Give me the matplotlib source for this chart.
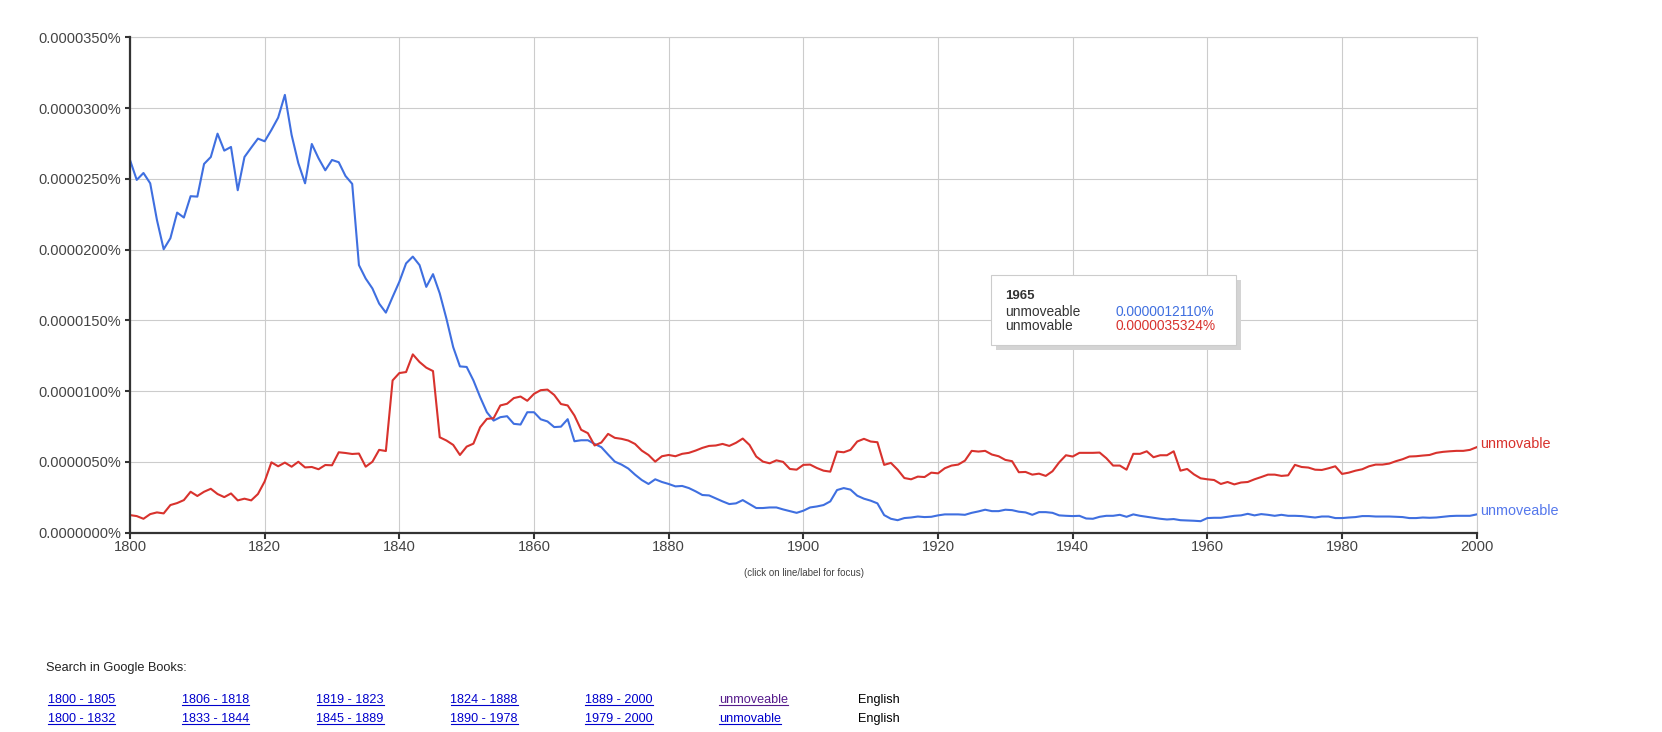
import matplotlib
matplotlib.use("Agg")
import matplotlib.pyplot as plt
from matplotlib.patches import Rectangle
from matplotlib.lines import Line2D
import numpy as np

W, H = 1662, 732
plt.rcParams['font.family'] = ['Liberation Sans', 'DejaVu Sans']

years = list(range(1800, 2001))

# values in units of 0.000001 %
unmoveable = [
    26.33, 24.92, 25.41, 24.68, 22.09, 20.02, 20.8, 22.61, 22.26, 23.77,
    23.74, 26.05, 26.54, 28.19, 26.99, 27.25, 24.19, 26.54, 27.2, 27.84,
    27.65, 28.45, 29.32, 30.93, 28.1, 26.1, 24.68, 27.46, 26.45, 25.6,
    26.33, 26.17, 25.2, 24.64, 18.9, 17.95, 17.25, 16.18, 15.54, 16.65,
    17.72, 19.02, 19.5, 18.9, 17.36, 18.26, 16.9, 15.1, 13.1, 11.74,
    11.7, 10.75, 9.57, 8.5, 7.91, 8.15, 8.22, 7.68, 7.63, 8.5,
    8.5, 8.0, 7.85, 7.45, 7.48, 8.01, 6.45, 6.52, 6.52, 6.26,
    6.03, 5.51, 5.01, 4.8, 4.52, 4.09, 3.71, 3.43, 3.76, 3.57,
    3.43, 3.26, 3.29, 3.14, 2.91, 2.65, 2.62, 2.41, 2.2, 2.01,
    2.06, 2.29, 2.01, 1.73, 1.73, 1.77, 1.77, 1.63, 1.51, 1.39,
    1.54, 1.77, 1.84, 1.94, 2.2, 3.0, 3.14, 3.03, 2.6, 2.39,
    2.25, 2.06, 1.23, 0.97, 0.87, 1.02, 1.06, 1.13, 1.09, 1.11,
    1.21, 1.28, 1.28, 1.28, 1.25, 1.39, 1.49, 1.61, 1.51, 1.51,
    1.61, 1.58, 1.47, 1.42, 1.25, 1.44, 1.44, 1.39, 1.21, 1.18,
    1.16, 1.18, 0.99, 0.97, 1.11, 1.18, 1.18, 1.25, 1.11, 1.28,
    1.18, 1.11, 1.04, 0.97, 0.92, 0.95, 0.87, 0.85, 0.83, 0.8,
    1.02, 1.04, 1.04, 1.11, 1.18, 1.211, 1.32, 1.21, 1.3, 1.25,
    1.18, 1.25, 1.18, 1.18, 1.16, 1.11, 1.06, 1.13, 1.13, 1.02,
    1.02, 1.06, 1.09, 1.16, 1.16, 1.13, 1.13, 1.13, 1.11, 1.09,
    1.02, 1.02, 1.06, 1.04, 1.06, 1.11, 1.16, 1.18, 1.18, 1.18,
    1.28,
]
unmovable = [
    1.23, 1.16, 0.97, 1.3, 1.42, 1.35, 1.94, 2.08, 2.29, 2.88,
    2.58, 2.88, 3.09, 2.72, 2.5, 2.76, 2.27, 2.39, 2.27, 2.72,
    3.61, 4.96, 4.68, 4.94, 4.65, 5.0, 4.6, 4.63, 4.47, 4.77,
    4.75, 5.67, 5.62, 5.55, 5.58, 4.65, 5.0, 5.84, 5.76, 10.75,
    11.27, 11.34, 12.59, 12.05, 11.65, 11.41, 6.73, 6.5, 6.19, 5.48,
    6.07, 6.28, 7.44, 8.03, 8.08, 8.98, 9.1, 9.5, 9.61, 9.31,
    9.8, 10.06, 10.1, 9.72, 9.08, 8.98, 8.27, 7.26, 7.02, 6.15,
    6.36, 6.97, 6.69, 6.62, 6.5, 6.26, 5.79, 5.48, 5.01, 5.39,
    5.48, 5.39, 5.56, 5.63, 5.79, 5.98, 6.12, 6.15, 6.26, 6.12,
    6.34, 6.64, 6.19, 5.37, 5.01, 4.89, 5.1, 4.99, 4.49, 4.44,
    4.78, 4.8, 4.56, 4.37, 4.3, 5.72, 5.67, 5.84, 6.43, 6.62,
    6.43, 6.38, 4.78, 4.92, 4.44, 3.85, 3.76, 3.95, 3.92, 4.23,
    4.18, 4.54, 4.73, 4.8, 5.08, 5.77, 5.72, 5.77, 5.51, 5.39,
    5.13, 5.04, 4.26, 4.28, 4.09, 4.16, 4.0, 4.33, 4.96, 5.46,
    5.37, 5.63, 5.63, 5.63, 5.65, 5.25, 4.73, 4.73, 4.44, 5.56,
    5.56, 5.74, 5.32, 5.46, 5.46, 5.74, 4.37, 4.49, 4.11, 3.83,
    3.76, 3.71, 3.43, 3.57, 3.4, 3.5324, 3.57, 3.76, 3.92, 4.09,
    4.09, 4.0, 4.04, 4.78, 4.63, 4.59, 4.44, 4.42, 4.54, 4.68,
    4.14, 4.23, 4.37, 4.47, 4.68, 4.8, 4.8, 4.87, 5.04, 5.18,
    5.37, 5.39, 5.44, 5.48, 5.63, 5.7, 5.74, 5.77, 5.77, 5.84,
    6.03,
]

xticks = list(range(1800, 2001, 20))
yticks = [0, 5, 10, 15, 20, 25, 30, 35]

tip_year = "1965"
tip_rows = [("unmoveable", "0.0000012110%"), ("unmovable", "0.0000035324%")]

row1 = ["1800 - 1805", "1806 - 1818", "1819 - 1823", "1824 - 1888", "1889 - 2000", "unmoveable"]
row2 = ["1800 - 1832", "1833 - 1844", "1845 - 1889", "1890 - 1978", "1979 - 2000", "unmovable"]
col_x = [48, 182, 316.5, 450.5, 585, 719, 858]

BLUE = '#3f6fe0'
RED = '#d8322d'
GRID = '#cccccc'


def fx(x):
    return x / W


def fy(y):
    return 1 - y / H


fig = plt.figure(figsize=(W / 100, H / 100), dpi=100)
ax = fig.add_axes([fx(130), fy(532.5), fx(1476.7) - fx(130), fy(37.3) - fy(532.5)])

ax.plot(years, unmoveable, color=BLUE, lw=1.5, zorder=3)
ax.plot(years, unmovable, color=RED, lw=1.5, zorder=3)

ax.set_xlim(1800, 2000)
ax.set_ylim(0, 35)
ax.set_xticks(xticks)
ax.set_yticks(yticks)
ax.set_yticklabels([f"{v / 1e6:.7f}%" for v in yticks])
ax.grid(True, color=GRID, lw=0.8, zorder=0)
ax.tick_params(axis='y', length=3.6, width=1.5, color='#333333', pad=2.8,
               labelsize=10.5, labelcolor='#444444')
ax.tick_params(axis='x', length=4.5, width=1.5, color='#333333', pad=1,
               labelsize=10.6, labelcolor='#444444')
for s in ['left', 'bottom']:
    ax.spines[s].set_color('#333333')
    ax.spines[s].set_linewidth(1.6)
    ax.spines[s].set_zorder(4)
for s in ['top', 'right']:
    ax.spines[s].set_color(GRID)
    ax.spines[s].set_linewidth(0.8)

# end-of-line labels
ax.annotate("unmovable", (years[-1], unmovable[-1]), xytext=(3, 3), textcoords='offset pixels',
            color=RED, fontsize=10.4, va='center', ha='left', annotation_clip=False)
ax.annotate("unmoveable", (years[-1], unmoveable[-1]), xytext=(3, 3), textcoords='offset pixels',
            color='#5578ec', fontsize=10.4, va='center', ha='left', annotation_clip=False)

fig.text(fx(803.5), fy(573), "(click on line/label for focus)", fontsize=7,
         color='#444444', ha='center', va='center')

# tooltip box
fig.add_artist(Rectangle((fx(995.5), fy(350)), fx(245) - fx(0), fy(275) - fy(345),
                         transform=fig.transFigure, facecolor='#d4d4d4', edgecolor='none', zorder=5))
fig.add_artist(Rectangle((fx(991), fy(345)), fx(245) - fx(0), fy(275) - fy(345),
                         transform=fig.transFigure, facecolor='white', edgecolor='#cccccc',
                         lw=0.8, zorder=6))
fig.text(fx(1005), fy(296), tip_year, fontsize=9.5, fontweight='bold', color='#333333',
         va='center', zorder=7)
for i, (name, val) in enumerate(tip_rows):
    yy = 311.5 + i * 14
    fig.text(fx(1005), fy(yy), name, fontsize=9.9, color='#333333', va='center', zorder=7)
    fig.text(fx(1115), fy(yy), val, fontsize=9.9, color=[BLUE, RED][i], va='center', zorder=7)

# bottom search links
fig.text(fx(46), fy(668), "Search in Google Books:", fontsize=9.2, color='#222222', va='center')
links = []
for yy, row in [(700, row1), (719, row2)]:
    for i, lab in enumerate(row):
        c = '#551a8b' if lab == "unmoveable" else '#0000cc'
        t = fig.text(fx(col_x[i]), fy(yy), lab, fontsize=9.1, color=c, va='center')
        links.append((t, c))
    fig.text(fx(col_x[6]), fy(yy), "English", fontsize=9.1, color='black', va='center')

fig.canvas.draw()
r = fig.canvas.get_renderer()
for t, c in links:
    bb = t.get_window_extent(renderer=r)
    yb = bb.y0 + 1.5
    fig.add_artist(Line2D([bb.x0 / W, bb.x1 / W], [yb / H, yb / H], color=c, lw=0.8,
                          transform=fig.transFigure))

fig.savefig("out.png", dpi=100)
